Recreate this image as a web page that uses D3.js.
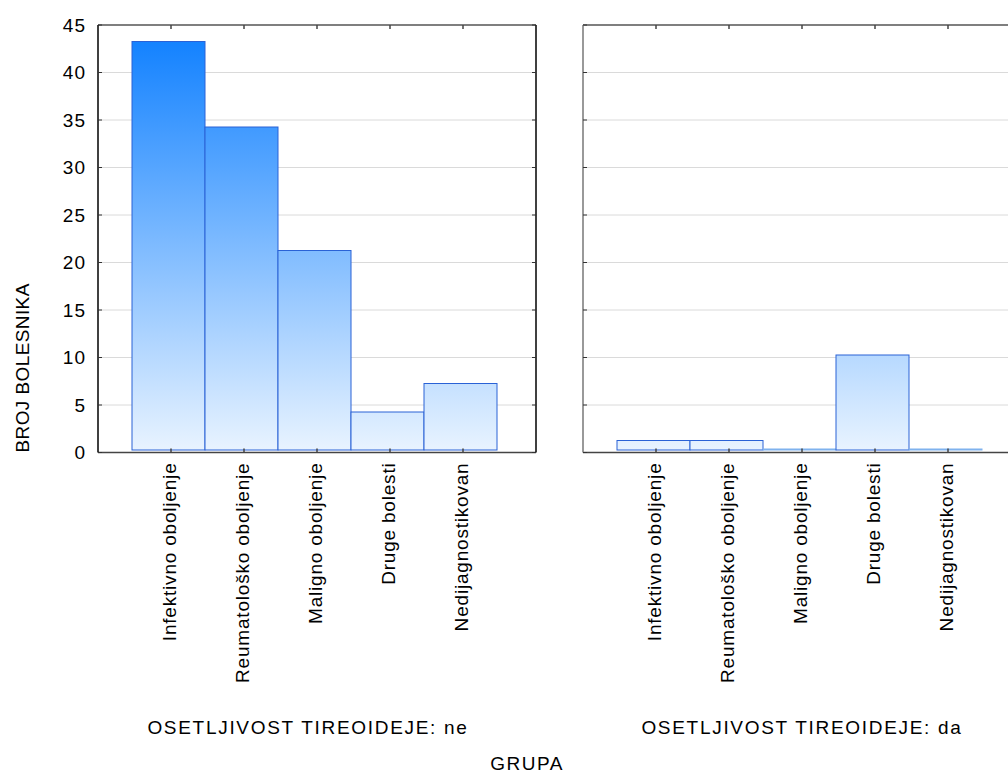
<!DOCTYPE html>
<html>
<head>
<meta charset="utf-8">
<script src="https://cdn.jsdelivr.net/npm/d3@7"></script>
<style>
  html, body { margin: 0; padding: 0; background: #fff; }
  text { font-family: "Liberation Sans", Arial, sans-serif; fill: #000; }
</style>
</head>
<body>
<svg id="chart" width="1008" height="773"></svg>
<script>
const categories = ["Infektivno oboljenje", "Reumatološko oboljenje", "Maligno oboljenje", "Druge bolesti", "Nedijagnostikovan"];
const panelTitles = ["OSETLJIVOST TIREOIDEJE: ne", "OSETLJIVOST TIREOIDEJE: da"];
const valuesNe = [43, 34, 21, 4, 7];
const valuesDa = [1, 1, 0, 10, 0];
const yTicks = [0, 5, 10, 15, 20, 25, 30, 35, 40, 45];
const yTitle = "BROJ BOLESNIKA";
const xTitle = "GRUPA";

(function () {
const svg = d3.select("#chart");
const plotTop = 25, plotBottom = 452.5, panelW = 438;
const FS = "19px";
const panels = [
  { x0: 98, values: valuesNe, title: panelTitles[0], titleX: 308, axisColor: "#000" },
  { x0: 583, values: valuesDa, title: panelTitles[1], titleX: 802, axisColor: "#777" }
];

const y = d3.scaleLinear().domain([0, 45]).range([plotBottom, plotTop]);

const defs = svg.append("defs");
const grad = defs.append("linearGradient").attr("id", "barGrad")
  .attr("gradientUnits", "userSpaceOnUse")
  .attr("x1", 0).attr("x2", 0).attr("y1", y(45)).attr("y2", y(0));
grad.append("stop").attr("offset", "0%").attr("stop-color", "#0a7dff");
grad.append("stop").attr("offset", "100%").attr("stop-color", "#e8f3ff");

panels.forEach((p, pi) => {
  const x = d3.scalePoint().domain(categories).range([p.x0, p.x0 + panelW]).padding(1);
  const step = x.step();
  const g = svg.append("g");

  g.append("g").selectAll("line").data(yTicks.filter(t => t > 0 && t < 45)).join("line")
    .attr("x1", p.x0).attr("x2", p.x0 + panelW)
    .attr("y1", d => y(d)).attr("y2", d => y(d))
    .attr("stroke", "#dadada").attr("stroke-width", 1);

  const off = -2.5;
  const bars = g.append("g").attr("transform", `translate(${off},${off})`);
  bars.selectAll("rect").data(p.values).join("rect")
    .attr("x", (d, i) => x(categories[i]) - step / 2)
    .attr("y", d => Math.min(y(d), y(0) - 1))
    .attr("width", step)
    .attr("height", d => Math.max(1, y(0) - y(d)))
    .attr("fill", "url(#barGrad)")
    .attr("stroke", d => d === 0 ? "#7fb2ee" : "#2a62d6")
    .attr("stroke-width", 1);

  const axG = g.append("g");
  axG.append("line").attr("x1", p.x0).attr("x2", p.x0 + panelW).attr("y1", plotTop).attr("y2", plotTop)
    .attr("stroke", "#555").attr("stroke-width", 1.5);
  axG.append("line").attr("x1", p.x0).attr("x2", p.x0 + panelW).attr("y1", plotBottom).attr("y2", plotBottom)
    .attr("stroke", "#444").attr("stroke-width", 1.5);
  axG.append("line").attr("x1", p.x0).attr("x2", p.x0).attr("y1", plotTop).attr("y2", plotBottom)
    .attr("stroke", p.axisColor).attr("stroke-width", 1.5);
  axG.append("line").attr("x1", p.x0 + panelW).attr("x2", p.x0 + panelW).attr("y1", plotTop).attr("y2", plotBottom)
    .attr("stroke", "#000").attr("stroke-width", 1.5);

  axG.selectAll("line.xt").data(categories).join("line").attr("class", "xt")
    .attr("x1", d => x(d)).attr("x2", d => x(d)).attr("y1", plotTop).attr("y2", plotTop + 4)
    .attr("stroke", "#444").attr("stroke-width", 1.5);
  axG.selectAll("line.xb").data(categories).join("line").attr("class", "xb")
    .attr("x1", d => x(d)).attr("x2", d => x(d)).attr("y1", plotBottom).attr("y2", plotBottom - 4)
    .attr("stroke", "#444").attr("stroke-width", 1.5);
  axG.selectAll("line.yl").data(yTicks).join("line").attr("class", "yl")
    .attr("x1", p.x0).attr("x2", p.x0 + 4).attr("y1", d => y(d)).attr("y2", d => y(d))
    .attr("stroke", "#333").attr("stroke-width", 1);
  axG.selectAll("line.yr").data(yTicks).join("line").attr("class", "yr")
    .attr("x1", p.x0 + panelW).attr("x2", p.x0 + panelW - 4).attr("y1", d => y(d)).attr("y2", d => y(d))
    .attr("stroke", "#333").attr("stroke-width", 1);

  if (pi === 0) {
    const yAxis = d3.axisLeft(y).tickValues(yTicks).tickSize(0).tickPadding(12);
    const ya = g.append("g").attr("transform", `translate(${p.x0},0)`).call(yAxis);
    ya.select(".domain").remove();
    ya.selectAll("text").style("font-size", FS).style("letter-spacing", "1px")
      .style("font-family", "Liberation Sans, Arial, sans-serif").attr("fill", "#000");
  }

  g.append("g").selectAll("text").data(categories).join("text")
    .attr("transform", d => `translate(${x(d) - 2},${plotBottom + 10}) rotate(-90)`)
    .attr("text-anchor", "end").attr("dy", "0.35em")
    .style("font-size", FS).style("letter-spacing", "0.8px")
    .text(d => d);

  g.append("text").attr("x", p.titleX).attr("y", 734).attr("text-anchor", "middle")
    .style("font-size", FS).style("letter-spacing", "1.7px").text(p.title);
});

svg.append("text").attr("transform", `translate(29,${plotBottom}) rotate(-90)`)
  .attr("text-anchor", "start").style("font-size", FS).style("letter-spacing", "0.4px").text(yTitle);
svg.append("text").attr("x", 527).attr("y", 770).attr("text-anchor", "middle")
  .style("font-size", FS).style("letter-spacing", "1.5px").text(xTitle);
})();
</script>
</body>
</html>
